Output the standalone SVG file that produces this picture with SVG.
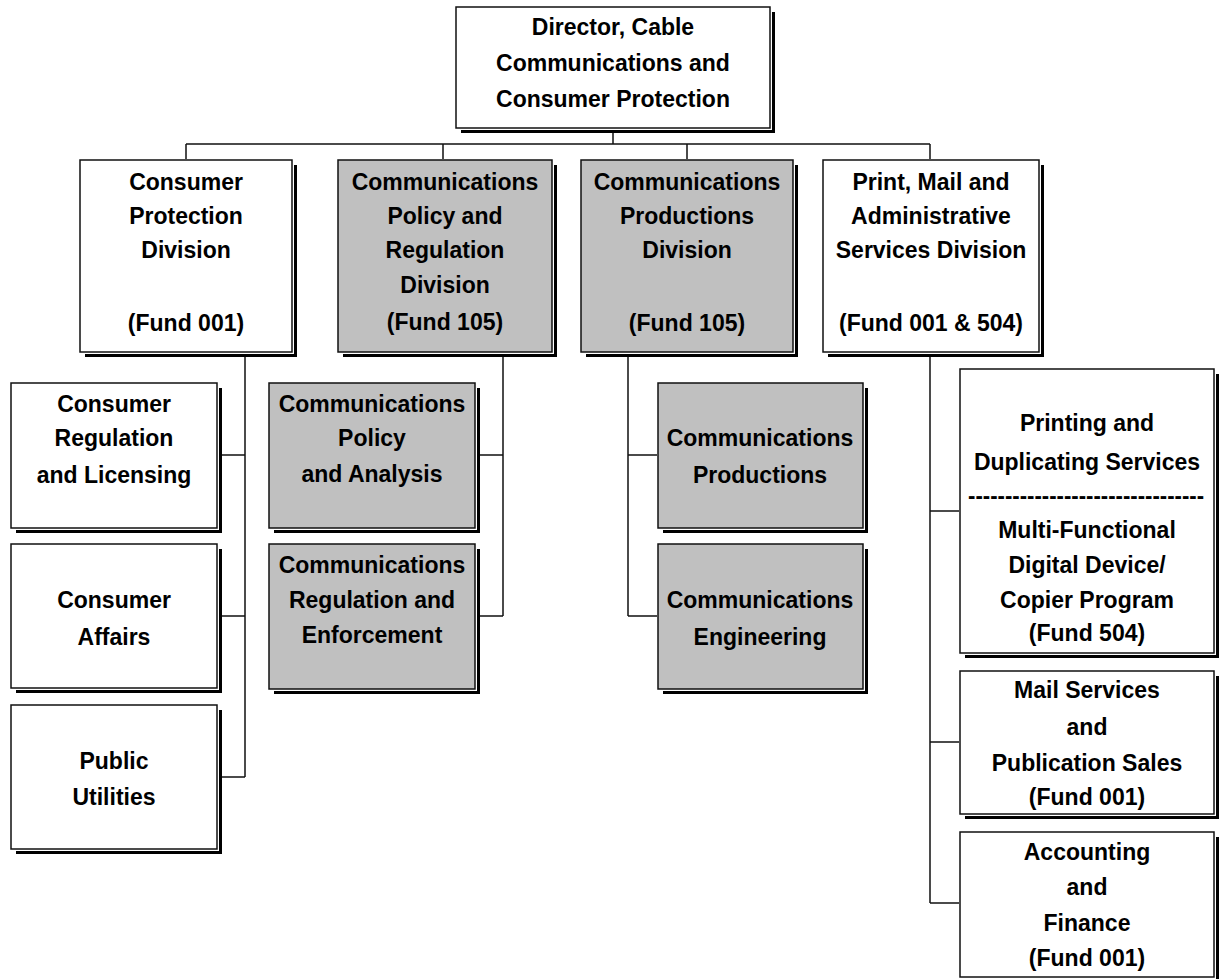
<svg xmlns="http://www.w3.org/2000/svg" width="1219" height="979" viewBox="0 0 1219 979">
<style>
.sh{fill:#000}
.gap{fill:#fff}
.box{fill:#fff;stroke:#111;stroke-width:1.5}
.g .box{fill:#c0c0c0}
.t{font-family:"Liberation Sans",Arial,sans-serif;font-weight:bold;font-size:23px;fill:#000;text-anchor:middle}
.c{fill:none;stroke:#111;stroke-width:1.5}
</style>
<rect width="1219" height="979" fill="#fff"/>
<g id="connectors">
<path class="c" d="M613 128V144M186 144H930M186 144V160M443 144V160M687 144V160M930 144V160"/>
<path class="c" d="M245 352V777M217 455H245M217 616H245M217 777H245"/>
<path class="c" d="M503 352V616M475 455H503M475 616H503"/>
<path class="c" d="M628 352V616M628 455H658M628 616H658"/>
<path class="c" d="M930 352V903M930 511H960M930 742H960M930 903H960"/>
</g>
<g id="director">
<rect class="sh" x="461" y="12" width="314" height="121"/><rect class="gap" x="455" y="6" width="317" height="124"/><rect class="box" x="456" y="7" width="314" height="121"/>
<text class="t" x="613" y="35">Director, Cable</text><text class="t" x="613" y="71">Communications and</text><text class="t" x="613" y="107">Consumer Protection</text>
</g>
<g id="consumer-protection">
<rect class="sh" x="85" y="165" width="212" height="192"/><rect class="gap" x="79" y="159" width="215" height="195"/><rect class="box" x="80" y="160" width="212" height="192"/>
<text class="t" x="186" y="190">Consumer</text><text class="t" x="186" y="224">Protection</text><text class="t" x="186" y="258">Division</text><text class="t" x="186" y="331">(Fund 001)</text>
</g>
<g id="comm-policy-regulation" class="g">
<rect class="sh" x="343" y="165" width="214" height="192"/><rect class="gap" x="337" y="159" width="217" height="195"/><rect class="box" x="338" y="160" width="214" height="192"/>
<text class="t" x="445" y="190">Communications</text><text class="t" x="445" y="224">Policy and</text><text class="t" x="445" y="258">Regulation</text><text class="t" x="445" y="293">Division</text><text class="t" x="445" y="330">(Fund 105)</text>
</g>
<g id="comm-productions-division" class="g">
<rect class="sh" x="586" y="165" width="212" height="192"/><rect class="gap" x="580" y="159" width="215" height="195"/><rect class="box" x="581" y="160" width="212" height="192"/>
<text class="t" x="687" y="190">Communications</text><text class="t" x="687" y="224">Productions</text><text class="t" x="687" y="258">Division</text><text class="t" x="687" y="331">(Fund 105)</text>
</g>
<g id="print-mail-admin">
<rect class="sh" x="828" y="165" width="216" height="192"/><rect class="gap" x="822" y="159" width="219" height="195"/><rect class="box" x="823" y="160" width="216" height="192"/>
<text class="t" x="931" y="190">Print, Mail and</text><text class="t" x="931" y="224">Administrative</text><text class="t" x="931" y="258">Services Division</text><text class="t" x="931" y="331">(Fund 001 &amp; 504)</text>
</g>
<g id="consumer-regulation-licensing">
<rect class="sh" x="16" y="388" width="206" height="145"/><rect class="gap" x="10" y="382" width="209" height="148"/><rect class="box" x="11" y="383" width="206" height="145"/>
<text class="t" x="114" y="412">Consumer</text><text class="t" x="114" y="446">Regulation</text><text class="t" x="114" y="483">and Licensing</text>
</g>
<g id="consumer-affairs">
<rect class="sh" x="16" y="549" width="206" height="144"/><rect class="gap" x="10" y="543" width="209" height="147"/><rect class="box" x="11" y="544" width="206" height="144"/>
<text class="t" x="114" y="608">Consumer</text><text class="t" x="114" y="645">Affairs</text>
</g>
<g id="public-utilities">
<rect class="sh" x="16" y="710" width="206" height="144"/><rect class="gap" x="10" y="704" width="209" height="147"/><rect class="box" x="11" y="705" width="206" height="144"/>
<text class="t" x="114" y="769">Public</text><text class="t" x="114" y="805">Utilities</text>
</g>
<g id="comm-policy-analysis" class="g">
<rect class="sh" x="274" y="388" width="206" height="145"/><rect class="gap" x="268" y="382" width="209" height="148"/><rect class="box" x="269" y="383" width="206" height="145"/>
<text class="t" x="372" y="412">Communications</text><text class="t" x="372" y="446">Policy</text><text class="t" x="372" y="482">and Analysis</text>
</g>
<g id="comm-regulation-enforcement" class="g">
<rect class="sh" x="274" y="549" width="206" height="145"/><rect class="gap" x="268" y="543" width="209" height="148"/><rect class="box" x="269" y="544" width="206" height="145"/>
<text class="t" x="372" y="573">Communications</text><text class="t" x="372" y="608">Regulation and</text><text class="t" x="372" y="643">Enforcement</text>
</g>
<g id="comm-productions" class="g">
<rect class="sh" x="663" y="388" width="205" height="145"/><rect class="gap" x="657" y="382" width="208" height="148"/><rect class="box" x="658" y="383" width="205" height="145"/>
<text class="t" x="760" y="446">Communications</text><text class="t" x="760" y="483">Productions</text>
</g>
<g id="comm-engineering" class="g">
<rect class="sh" x="663" y="549" width="205" height="145"/><rect class="gap" x="657" y="543" width="208" height="148"/><rect class="box" x="658" y="544" width="205" height="145"/>
<text class="t" x="760" y="608">Communications</text><text class="t" x="760" y="645">Engineering</text>
</g>
<g id="printing-duplicating">
<rect class="sh" x="965" y="374" width="254" height="284"/><rect class="gap" x="959" y="368" width="257" height="287"/><rect class="box" x="960" y="369" width="254" height="284"/>
<text class="t" x="1087" y="431">Printing and</text><text class="t" x="1087" y="470">Duplicating Services</text>
<text class="t" x="1086" y="504" textLength="236" lengthAdjust="spacingAndGlyphs">--------------------------------</text>
<text class="t" x="1087" y="538">Multi-Functional</text><text class="t" x="1087" y="573">Digital Device/</text><text class="t" x="1087" y="608">Copier Program</text><text class="t" x="1087" y="641">(Fund 504)</text>
</g>
<g id="mail-services">
<rect class="sh" x="965" y="676" width="254" height="143"/><rect class="gap" x="959" y="670" width="257" height="146"/><rect class="box" x="960" y="671" width="254" height="143"/>
<text class="t" x="1087" y="698">Mail Services</text><text class="t" x="1087" y="735">and</text><text class="t" x="1087" y="771">Publication Sales</text><text class="t" x="1087" y="805">(Fund 001)</text>
</g>
<g id="accounting-finance">
<rect class="sh" x="965" y="837" width="254" height="145"/><rect class="gap" x="959" y="831" width="257" height="148"/><rect class="box" x="960" y="832" width="254" height="145"/>
<text class="t" x="1087" y="860">Accounting</text><text class="t" x="1087" y="895">and</text><text class="t" x="1087" y="931">Finance</text><text class="t" x="1087" y="966">(Fund 001)</text>
</g>
</svg>
